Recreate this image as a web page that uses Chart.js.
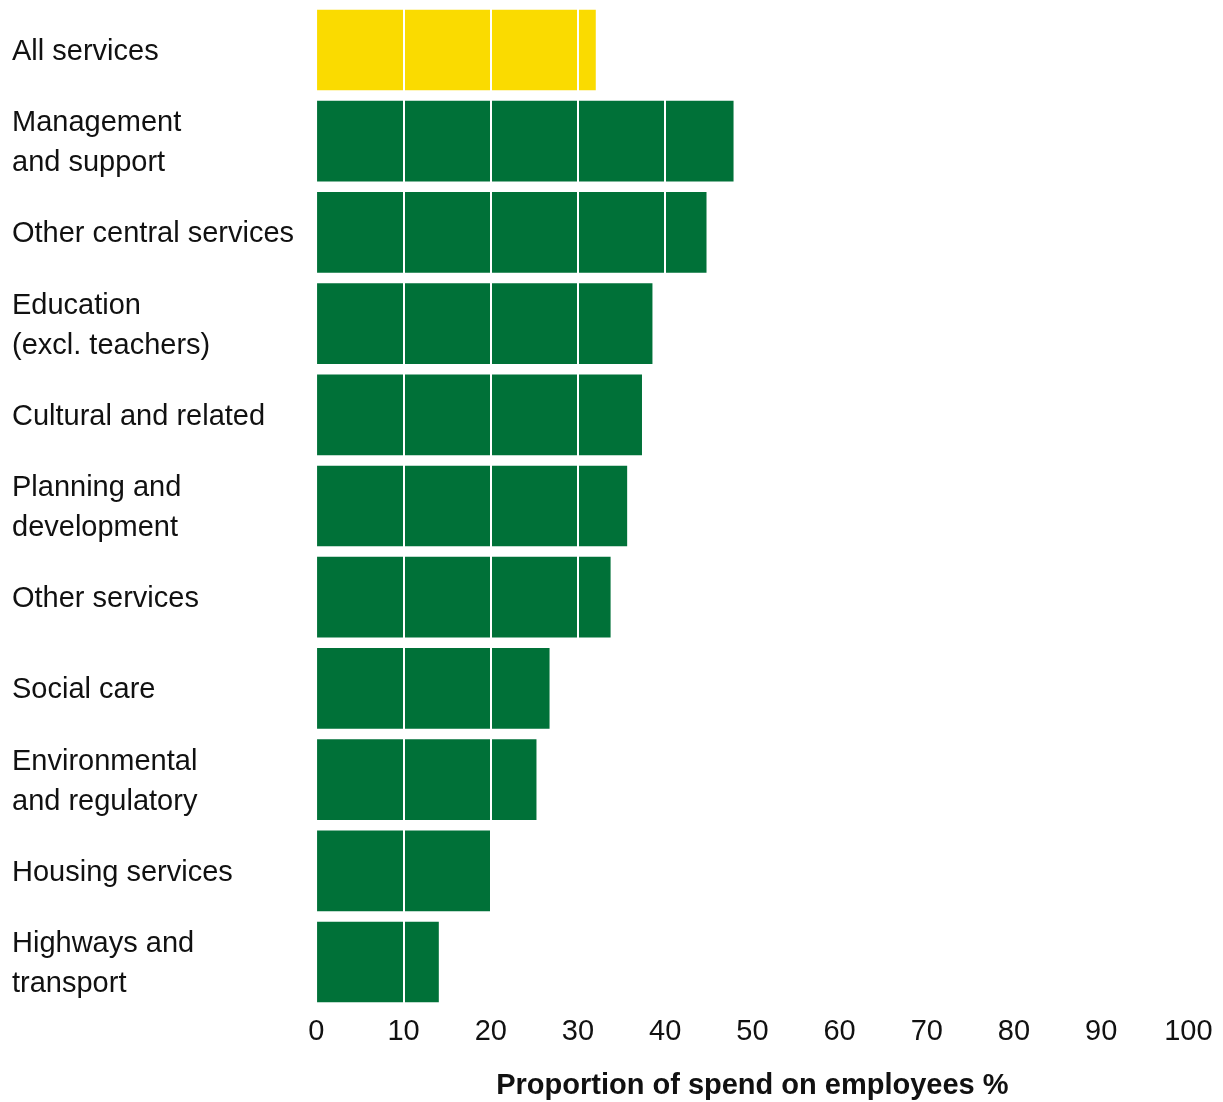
<!DOCTYPE html>
<html>
<head>
<meta charset="utf-8">
<script src="https://cdn.jsdelivr.net/npm/chart.js@4/dist/chart.umd.min.js"></script>
<style>
  html, body { margin: 0; padding: 0; background: #ffffff; }
  #wrap { width: 1223px; height: 1102px; position: relative; }
</style>
</head>
<body>
<div id="wrap"><canvas id="chart"></canvas></div>
<script>
// Service areas, top to bottom (multi-line labels as arrays)
const categories = [
  'All services',
  ['Management', 'and support'],
  'Other central services',
  ['Education', '(excl. teachers)'],
  'Cultural and related',
  ['Planning and', 'development'],
  'Other services',
  'Social care',
  ['Environmental', 'and regulatory'],
  'Housing services',
  ['Highways and', 'transport']
];

// Proportion of spend on employees, %
const spendOnEmployees = [32, 47.8, 44.7, 38.5, 37.3, 35.6, 33.7, 26.7, 25.2, 20, 14];

// Which rows are the overall total (drawn in yellow)
const isTotal = [true, false, false, false, false, false, false, false, false, false, false];

// X axis range and tick step
const xMin = 0;
const xMax = 100;
const xStep = 10;

const axisTitle = 'Proportion of spend on employees %';

const YELLOW = '#FADB00';
const GREEN = '#007138';
const FONT = '"Liberation Sans", Arial, Helvetica, sans-serif';

const ctx = document.getElementById('chart').getContext('2d');
new Chart(ctx, {
  type: 'bar',
  data: {
    labels: categories,
    datasets: [{
      data: spendOnEmployees,
      backgroundColor: isTotal.map(t => t ? YELLOW : GREEN),
      borderWidth: 0,
      barThickness: 80
    }]
  },
  options: {
    indexAxis: 'y',
    responsive: true,
    maintainAspectRatio: false,
    animation: false,
    layout: { padding: { left: 12, right: 34.6, top: 4.4, bottom: 0 } },
    plugins: {
      legend: { display: false },
      tooltip: { enabled: false }
    },
    scales: {
      x: {
        min: xMin,
        max: xMax,
        border: { display: false },
        grid: {
          z: 1, // white gridlines sit on top of the bars
          drawTicks: false,
          lineWidth: 2,
          color: (c) => (c.tick && c.tick.value === 0) ? 'rgba(0,0,0,0)' : '#ffffff'
        },
        ticks: {
          stepSize: xStep,
          padding: 7,
          color: '#111111',
          font: { family: FONT, size: 29 }
        },
        title: {
          display: true,
          text: axisTitle,
          color: '#111111',
          padding: { top: 0, bottom: -1 },
          font: { family: FONT, size: 29, weight: 'bold' }
        },
        afterFit: (scale) => { scale.height = 94.4; }
      },
      y: {
        border: { display: false },
        grid: { display: false, drawTicks: false },
        ticks: {
          crossAlign: 'far',
          padding: 0,
          labelOffset: 2,
          color: '#111111',
          font: { family: FONT, size: 29, lineHeight: 1.38 }
        },
        afterFit: (scale) => {
          scale.width = 304.4;
          scale.paddingTop = 0;
          scale.paddingBottom = 0;
        }
      }
    }
  }
});
</script>
</body>
</html>
